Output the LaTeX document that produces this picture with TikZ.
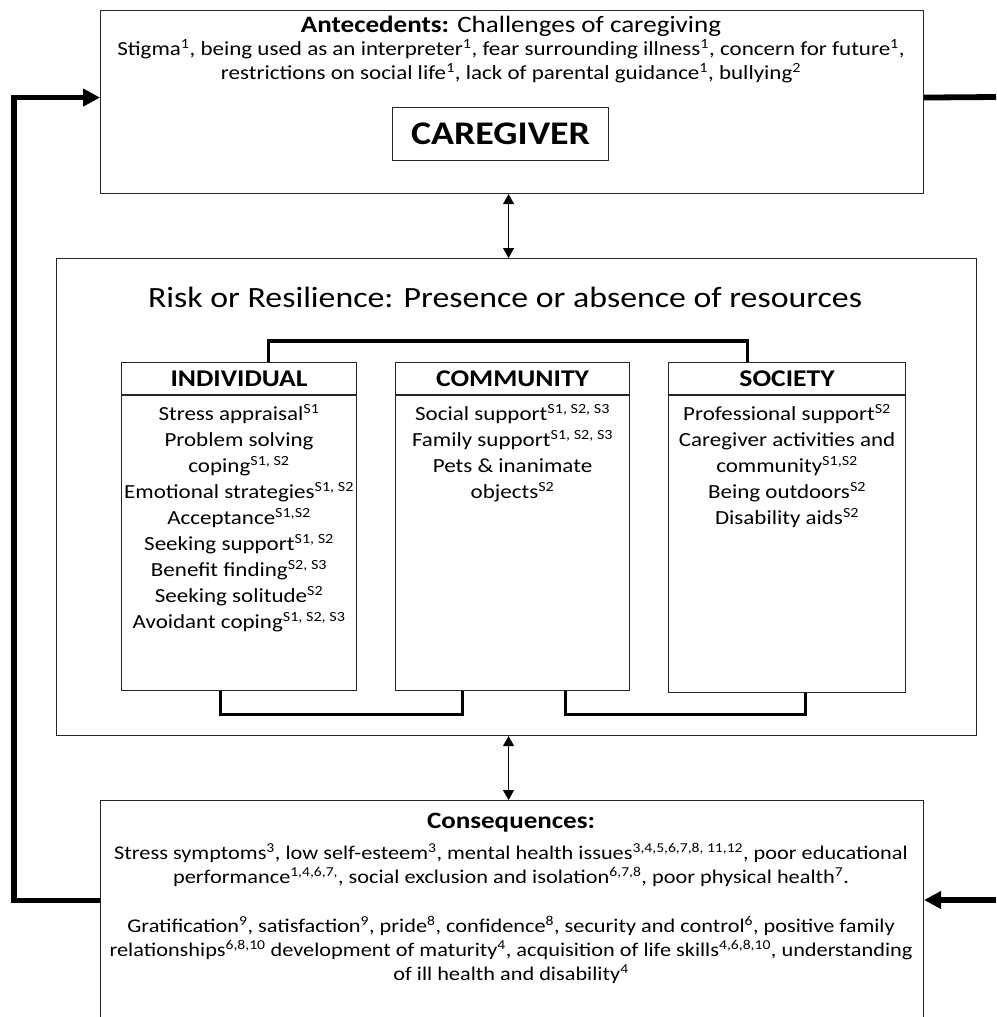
\documentclass[tikz,border=0pt]{standalone}
\usepackage{fontspec}
\setmainfont{Carlito}[FakeStretch=1.15]
\usetikzlibrary{arrows.meta}
\begin{document}
\begin{tikzpicture}[x=1pt,y=-1pt,
  box/.style={draw=black!85, line width=1.1pt, inner sep=0pt, anchor=north west},
  conn/.style={draw=black, line width=3.2pt},
  thickline/.style={draw=black, line width=5.8pt},
  thickarr/.style={draw=black, line width=5.8pt, -{Triangle[length=17pt,width=17pt]}},
  dbl/.style={draw=black, line width=0.9pt, {Triangle[length=10pt,width=11pt]}-{Triangle[length=10pt,width=11pt]}},
  bodytxt/.style={align=center, inner sep=0pt, font=\fontsize{20}{24}\selectfont},
  consbody/.style={align=center, inner sep=0pt, font=\fontsize{19.4}{24}\selectfont},
  itemtxt/.style={align=center, inner sep=0pt, anchor=north, font=\fontsize{20}{26}\selectfont},
  headtxt/.style={inner sep=0pt, font=\fontsize{24}{26}\selectfont\bfseries},
  titletxt/.style={inner sep=0pt, font=\fontsize{23.5}{26}\selectfont}
]
\useasboundingbox (0,0) rectangle (996,1017);

% top box
\node[box, minimum width=823pt, minimum height=183pt] (ante) at (100,10) {};
\node[titletxt] (anteT) at (511,26) {\textbf{Antecedents:} Challenges of caregiving};
\node[bodytxt] (anteB) at (511,61) {Stigma\textsuperscript{1}, being used as an interpreter\textsuperscript{1}, fear surrounding illness\textsuperscript{1}, concern for future\textsuperscript{1},\\restrictions on social life\textsuperscript{1}, lack of parental guidance\textsuperscript{1}, bullying\textsuperscript{2}};
\node[box, minimum width=216pt, minimum height=53pt] (cg) at (392,107) {};
\node[inner sep=0pt, font=\fontsize{33}{36}\selectfont\bfseries] (cgT) at (cg.center) {CAREGIVER};

% middle box
\node[box, minimum width=920pt, minimum height=477pt] (mid) at (56,258) {};
\node[inner sep=0pt, font=\fontsize{29.4}{31}\selectfont] (midT) at (505,297) {Risk or Resilience: Presence or absence of resources};

\node[box, minimum width=235pt, minimum height=328pt] (ind) at (121,362) {};
\node[box, minimum width=234pt, minimum height=328pt] (com) at (395,362) {};
\node[box, minimum width=237pt, minimum height=330pt] (soc) at (668,362) {};
\foreach \b in {ind,com,soc}{
  \draw[draw=black!85, line width=1.1pt] ([yshift=-33pt]\b.north west) -- ([yshift=-33pt]\b.north east);
}
\node[headtxt] (indH) at ([yshift=-17pt]ind.north) {INDIVIDUAL};
\node[headtxt] (comH) at ([yshift=-17pt]com.north) {COMMUNITY};
\node[headtxt] (socH) at ([yshift=-17pt]soc.north) {SOCIETY};

\node[itemtxt] (indL) at ([yshift=-42pt]ind.north) {Stress appraisal\textsuperscript{S1}\\Problem solving\\coping\textsuperscript{S1, S2}\\Emotional strategies\textsuperscript{S1, S2}\\Acceptance\textsuperscript{S1,S2}\\Seeking support\textsuperscript{S1, S2}\\Benefit finding\textsuperscript{S2, S3}\\Seeking solitude\textsuperscript{S2}\\Avoidant coping\textsuperscript{S1, S2, S3}};
\node[itemtxt] (comL) at ([yshift=-42pt]com.north) {Social support\textsuperscript{S1, S2, S3}\\Family support\textsuperscript{S1, S2, S3}\\Pets \& inanimate\\objects\textsuperscript{S2}};
\node[itemtxt] (socL) at ([yshift=-42pt]soc.north) {Professional support\textsuperscript{S2}\\Caregiver activities and\\community\textsuperscript{S1,S2}\\Being outdoors\textsuperscript{S2}\\Disability aids\textsuperscript{S2}};

\draw[conn] ([xshift=29.5pt]ind.north) -- ++(0,-21) -| ([xshift=-39.5pt]soc.north);
\draw[conn] ([xshift=-18.5pt]ind.south) -- ++(0,23) -| ([xshift=-50pt]com.south);
\draw[conn] ([xshift=53pt]com.south) -- ++(0,23) -| ([xshift=18.5pt]soc.south);

% bottom box
\node[box, minimum width=823pt, minimum height=240pt] (cons) at (100,800) {};
\node[titletxt, font=\fontsize{23.5}{26}\selectfont\bfseries] (consT) at (511,823) {Consequences:};
\node[consbody] (consB1) at (511,865) {Stress symptoms\textsuperscript{3}, low self-esteem\textsuperscript{3}, mental health issues\textsuperscript{3,4,5,6,7,8, 11,12}, poor educational\\performance\textsuperscript{1,4,6,7,}, social exclusion and isolation\textsuperscript{6,7,8}, poor physical health\textsuperscript{7}.};
\node[consbody] (consB2) at (511,950) {Gratification\textsuperscript{9}, satisfaction\textsuperscript{9}, pride\textsuperscript{8}, confidence\textsuperscript{8}, security and control\textsuperscript{6}, positive family\\relationships\textsuperscript{6,8,10} development of maturity\textsuperscript{4}, acquisition of life skills\textsuperscript{4,6,8,10}, understanding\\of ill health and disability\textsuperscript{4}};

% arrows between boxes
\draw[dbl] ([xshift=-3.5pt]ante.south) -- ([xshift=-3.5pt]ante.south |- mid.north);
\draw[dbl] ([xshift=-3.5pt]ante.south |- mid.south) -- ([xshift=-3.5pt]ante.south |- cons.north);

% feedback loop
\coordinate (rtop) at (996,97);
\coordinate (rbot) at (996,900);
\draw[thickarr] ([yshift=20pt]cons.west) -- ++(-86,0) |- ([yshift=4.5pt]ante.west);
\draw[thickline] ([yshift=4.5pt]ante.east) -- (rtop);
\draw[thickarr] (rbot) -- (cons.east |- rbot);
\end{tikzpicture}
\end{document}
